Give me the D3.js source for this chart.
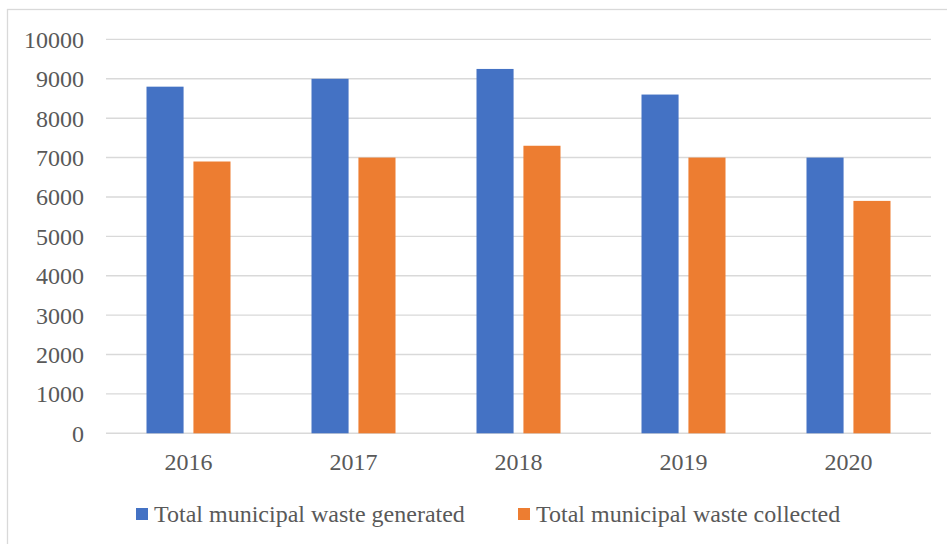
<!DOCTYPE html>
<html>
<head>
<meta charset="utf-8">
<script src="https://cdn.jsdelivr.net/npm/d3@7"></script>
<style>
    body { margin: 0; background: #fff; }
    svg { display: block; }
    text { font-family: "Liberation Serif", "Times New Roman", serif; fill: #595959; }
</style>
</head>
<body>
<div id="chart"></div>
<script>
var years = ['2016', '2017', '2018', '2019', '2020'];
var generated = [8800, 9000, 9250, 8600, 7000];
var collected = [6900, 7000, 7300, 7000, 5900];
var seriesNames = ['Total municipal waste generated', 'Total municipal waste collected'];
var seriesColors = ['#4472c4', '#ed7d31'];
var yTicks = [0, 1000, 2000, 3000, 4000, 5000, 6000, 7000, 8000, 9000, 10000];

var w = 947;
var h = 544;
var padLeft = 106, padRight = 931, padTop = 39.4, padBottom = 433.3;
var fontSize = 24;

var svg = d3.select("#chart").append("svg")
    .attr("width", w)
    .attr("height", h);

// chart area border (only top and left are in frame)
svg.append("rect")
    .attr("x", 7.5)
    .attr("y", 9.5)
    .attr("width", w + 10)
    .attr("height", h + 10)
    .attr("fill", "#fff")
    .attr("stroke", "#d9d9d9")
    .attr("stroke-width", 1.3);

var yScale = d3.scaleLinear([0, 10000], [padBottom, padTop]);

var xScale = d3.scaleBand()
    .domain(years)
    .range([padLeft, padRight]);

var inner = d3.scaleBand()
    .domain([0, 1])
    .range([xScale.bandwidth() / 2 - 42, xScale.bandwidth() / 2 + 42])
    .paddingInner(0.21);

// gridlines
svg.append("g")
    .selectAll("line")
    .data(yTicks)
    .join("line")
    .attr("x1", padLeft)
    .attr("x2", padRight)
    .attr("y1", d => yScale(d))
    .attr("y2", d => yScale(d))
    .attr("stroke", "#d9d9d9")
    .attr("stroke-width", 1.4);

// y tick labels
var yAxis = d3.axisLeft(yScale).tickValues(yTicks).tickFormat(d3.format("d")).tickSize(0).tickPadding(0);
var gy = svg.append("g")
    .attr("transform", "translate(84,0)")
    .call(yAxis);
gy.select(".domain").remove();
gy.selectAll("text")
    .attr("font-size", fontSize)
    .attr("font-family", null)
    .attr("fill", null)
    .attr("dy", "0.33em");

// bars
var data = [];
years.forEach(function (y, i) {
    data.push({ year: y, s: 0, v: generated[i] });
    data.push({ year: y, s: 1, v: collected[i] });
});

svg.append("g")
    .selectAll("rect")
    .data(data)
    .join("rect")
    .attr("x", d => xScale(d.year) + inner(d.s))
    .attr("y", d => yScale(d.v))
    .attr("width", inner.bandwidth())
    .attr("height", d => yScale(0) - yScale(d.v))
    .attr("fill", d => seriesColors[d.s]);

// x tick labels
var xAxis = d3.axisBottom(xScale).tickSize(0).tickPadding(0);
var gx = svg.append("g")
    .attr("transform", "translate(0,470)")
    .call(xAxis);
gx.select(".domain").remove();
gx.selectAll("text")
    .attr("font-size", fontSize)
    .attr("font-family", null)
    .attr("fill", null)
    .attr("dy", 0);

// legend
var legendX = [136, 518];
var legend = svg.append("g")
    .selectAll("g")
    .data(seriesNames)
    .join("g")
    .attr("transform", (d, i) => "translate(" + legendX[i] + ",508)");

legend.append("rect")
    .attr("width", 12)
    .attr("height", 12)
    .attr("fill", (d, i) => seriesColors[i]);

legend.append("text")
    .attr("x", 18)
    .attr("y", 14)
    .attr("font-size", fontSize)
    .text(d => d);
</script>
</body>
</html>
